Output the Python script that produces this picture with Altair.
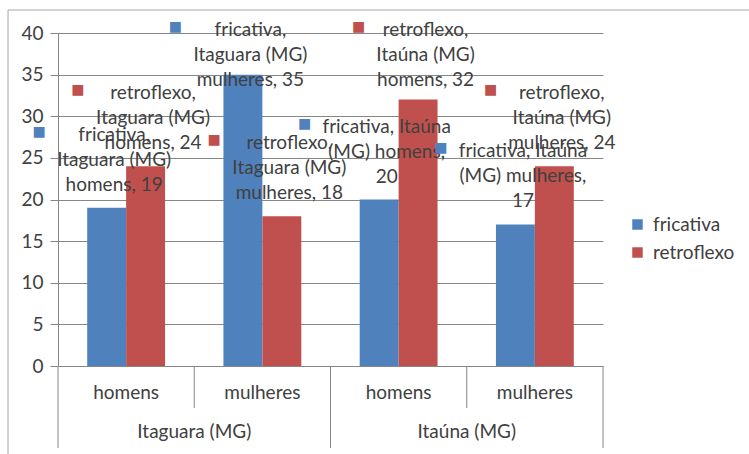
import altair as alt
import pandas as pd

# ---------------- data ----------------
cities = ["Itaguara (MG)", "Itaúna (MG)"]
subgroups = ["homens", "mulheres"]
series = ["fricativa", "retroflexo"]
colors = ["#4F81BD", "#C0504D"]
fricativa = [19, 35, 20, 17]      # Itaguara homens, Itaguara mulheres, Itaúna homens, Itaúna mulheres
retroflexo = [24, 18, 32, 24]
y_ticks = [0, 5, 10, 15, 20, 25, 30, 35, 40]

# data-label wording as wrapped in the original (lines separated by "|")
label_templates = [
    "fricativa,|Itaguara (MG)|homens, {v}",
    "retroflexo,|Itaguara (MG)|homens, {v}",
    "fricativa,|Itaguara (MG)|mulheres, {v}",
    "retroflexo,|Itaguara (MG)|mulheres, {v}",
    "fricativa, Itaúna|(MG) homens,|{v}",
    "retroflexo,|Itaúna (MG)|homens, {v}",
    "fricativa, Itaúna|(MG) mulheres,|{v}",
    "retroflexo,|Itaúna (MG)|mulheres, {v}",
]

FONT = "Lato"
FS = 19
TXT = "#404040"
GRID = "#868686"

# approximate advance widths (em) for placing the legend-key squares of the labels
_w = {'i': .23, 'l': .23, 'j': .23, 'f': .32, 't': .34, 'r': .36, ' ': .26, ',': .22,
      '(': .30, ')': .30, 'I': .29, 'M': .90, 'G': .72, 'm': .84, 'ú': .56}


def text_width(s):
    return sum(_w.get(c, .58 if c.isdigit() else .53) for c in s) * FS


keys = [f"{c}|{s}" for c in cities for s in subgroups]
rows = []
i = 0
for gi, key in enumerate(keys):
    city, sub = key.split("|")
    for si, ser in enumerate(series):
        v = (fricativa if ser == "fricativa" else retroflexo)[gi]
        lines = label_templates[i].format(v=v).split("|")
        halfw = max(text_width(l) for l in lines) / 2
        rows.append(dict(key=key, city=city, sub=sub, series=ser, value=v,
                         label="\n".join(lines), sqdx=7.5 - halfw - 17))
        i += 1
df = pd.DataFrame(rows)

groups_df = pd.DataFrame(dict(key=keys, sub=[k.split("|")[1] for k in keys]))
cities_df = pd.DataFrame(dict(key=[f"{c}|homens" for c in cities], city=cities))
frame_df = pd.DataFrame(dict(a=[0]))

W, H = 545, 333

xscale = alt.Scale(domain=keys, paddingInner=0, paddingOuter=0)
xoscale = alt.Scale(domain=series, paddingInner=0, paddingOuter=0.75)
yscale = alt.Scale(domain=[0, 40], nice=False)
cscale = alt.Scale(domain=series, range=colors)

X = alt.X("key:N", scale=xscale, axis=None, sort=keys)
XO = alt.XOffset("series:N", scale=xoscale, sort=series)

base = alt.Chart(df)

frame = alt.Chart(frame_df).mark_rect(fillOpacity=0, stroke="#A6A6A6", strokeWidth=1).encode(
    x=alt.value(-50), x2=alt.value(760), y=alt.value(-23), y2=alt.value(480)
)

bars = base.mark_bar().encode(
    x=X, xOffset=XO,
    y=alt.Y("value:Q", scale=yscale, axis=alt.Axis(
        values=y_ticks, title=None, grid=True, gridColor=GRID, gridWidth=1,
        domainColor=GRID, tickColor=GRID, tickSize=8, labelPadding=7,
        labelFont=FONT, labelFontSize=FS, labelColor=TXT)),
    color=alt.Color("series:N", scale=cscale, legend=alt.Legend(
        title=None, orient="none", legendX=570, legendY=182,
        symbolType="square", symbolSize=110, symbolStrokeWidth=0,
        labelFont=FONT, labelFontSize=FS, labelColor=TXT, labelOffset=6,
        rowPadding=8)),
)

labels = base.transform_calculate(ly="min(datum.value, 31.6)").mark_text(
    lineBreak="\n", lineHeight=25, align="center", baseline="bottom",
    dx=7.5, dy=-63, font=FONT, fontSize=FS, color=TXT
).encode(x=X, xOffset=XO, y=alt.Y("ly:Q", scale=yscale), text="label:N")

keysq = base.transform_calculate(ly="min(datum.value, 31.6)").mark_text(
    text="■", font="DejaVu Sans", fontSize=14, align="center", baseline="middle",
    dx=alt.expr("datum.sqdx"), dy=-76
).encode(x=X, xOffset=XO, y=alt.Y("ly:Q", scale=yscale),
         color=alt.Color("series:N", scale=cscale, legend=None))

sub_labels = alt.Chart(groups_df).mark_text(
    font=FONT, fontSize=FS, color=TXT, align="center", baseline="middle"
).encode(x=X, y=alt.value(H + 27), text="sub:N")

city_labels = alt.Chart(cities_df).mark_text(
    font=FONT, fontSize=FS, color=TXT, align="center", baseline="middle"
).encode(x=alt.X("key:N", scale=xscale, axis=None, sort=keys, bandPosition=1),
         y=alt.value(H + 66), text="city:N")

sep_full_left = alt.Chart(cities_df).mark_rule(color=GRID, strokeWidth=1).encode(
    x=alt.X("key:N", scale=xscale, axis=None, sort=keys, bandPosition=0),
    y=alt.value(H), y2=alt.value(H + 82))
sep_full_right = alt.Chart(pd.DataFrame(dict(key=[keys[-1]]))).mark_rule(color=GRID, strokeWidth=1).encode(
    x=alt.X("key:N", scale=xscale, axis=None, sort=keys, bandPosition=1),
    y=alt.value(H), y2=alt.value(H + 82))
sep_short = alt.Chart(groups_df[groups_df["sub"] == "mulheres"]).mark_rule(color=GRID, strokeWidth=1).encode(
    x=alt.X("key:N", scale=xscale, axis=None, sort=keys, bandPosition=0),
    y=alt.value(H), y2=alt.value(H + 42))

chart = alt.layer(
    frame, bars, labels, keysq, sub_labels, city_labels,
    sep_full_left, sep_full_right, sep_short
).properties(
    width=W, height=H,
    autosize=alt.AutoSizeParams(type="none"),
    padding={"left": 58, "top": 33, "right": 146, "bottom": 88},
    background="white"
).configure_view(stroke=None)

chart.save("out.html", embed_options={"renderer": "svg", "actions": False})
